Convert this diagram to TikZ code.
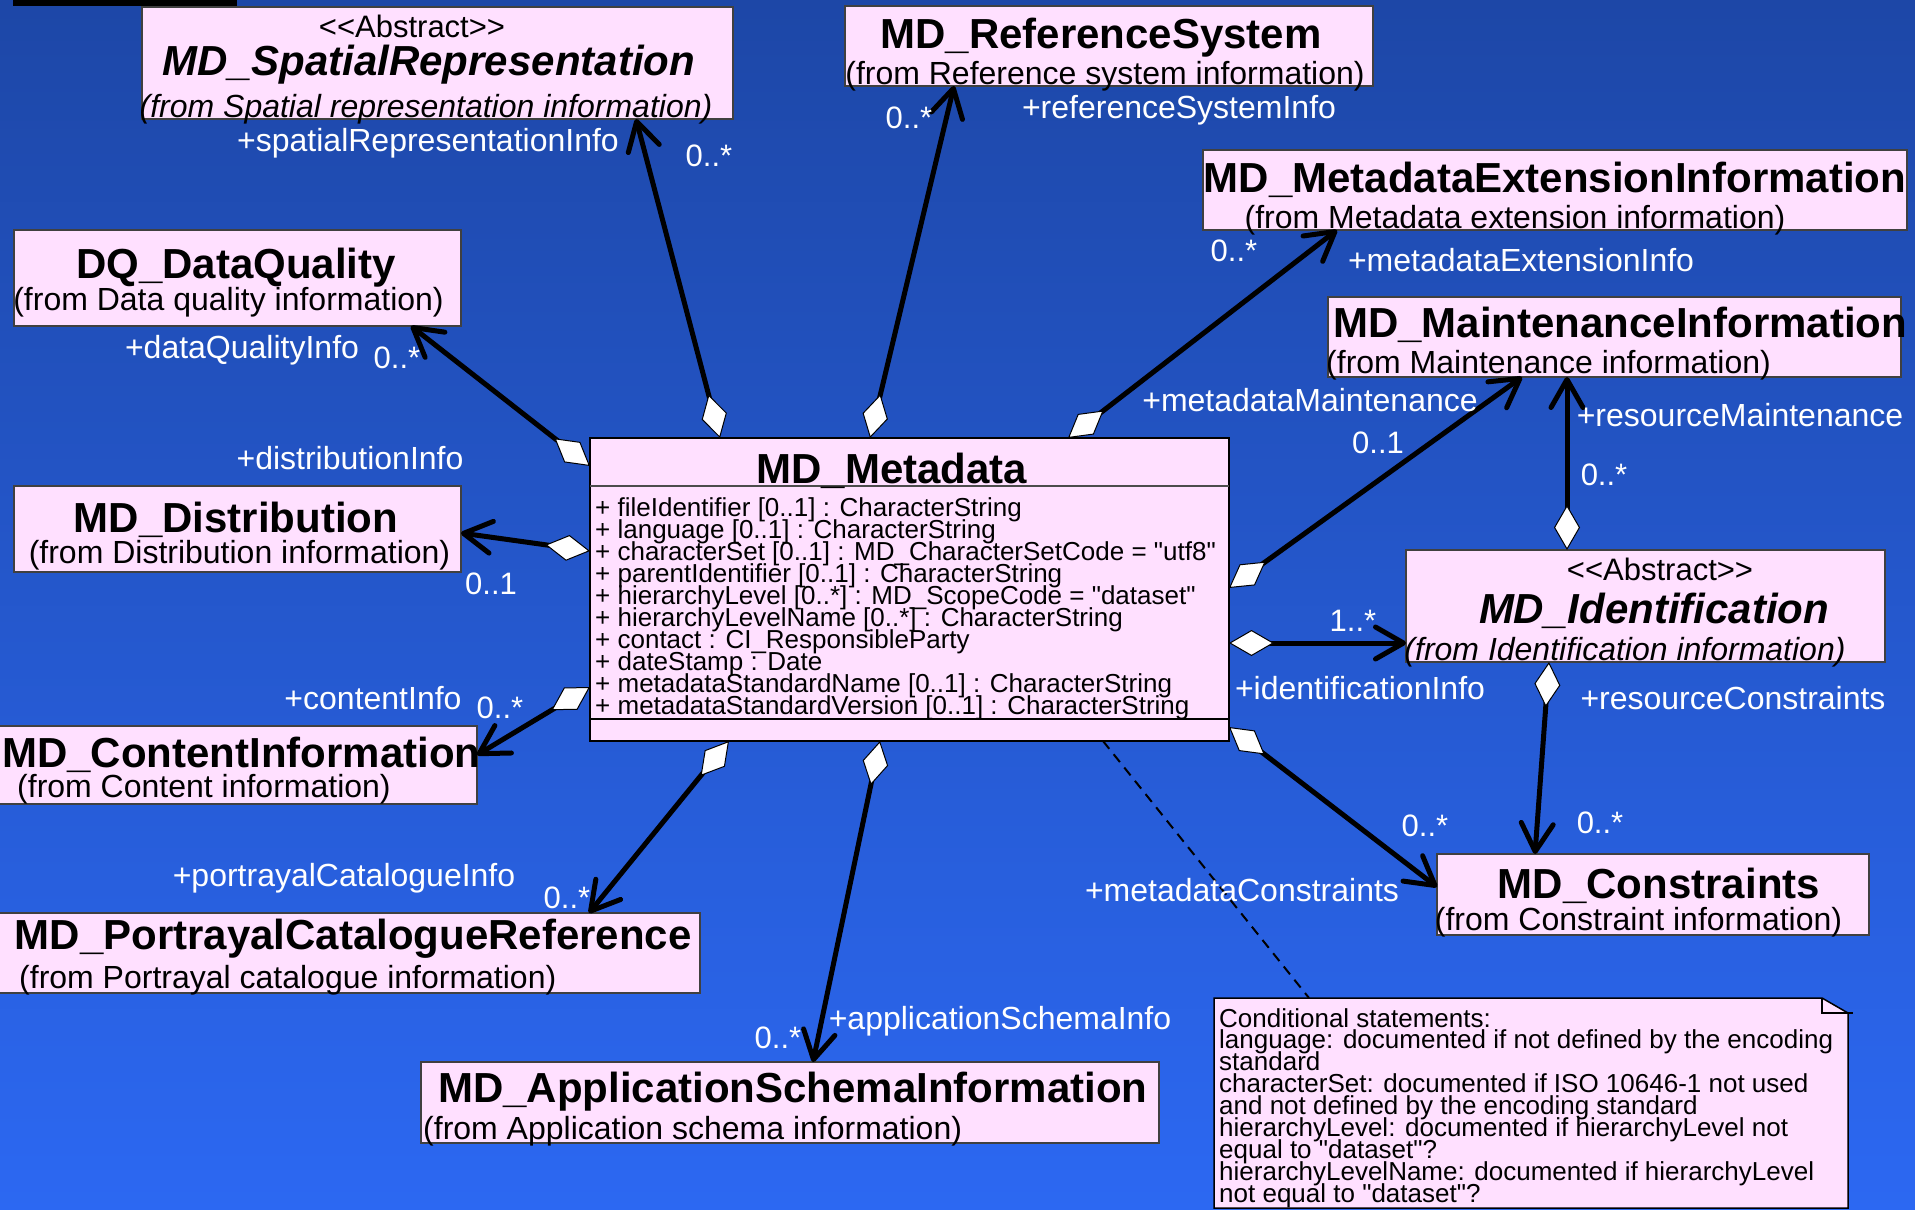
\documentclass[tikz,border=0pt]{standalone}
\usepackage{fontspec}
\setmainfont{Liberation Sans}[Ligatures=TeXOff]
\usetikzlibrary{arrows.meta,calc}

\definecolor{bgtop}{RGB}{29,71,167}
\definecolor{bgbot}{RGB}{44,104,242}
\definecolor{classfill}{RGB}{255,224,255}

% stereotype written with plain angle brackets
\newcommand\stereotype[1]{<\kern0pt<#1>\kern0pt>}

\begin{document}
\begin{tikzpicture}[x=1pt,y=-1pt,
  cls/.style={draw=black!75, line width=1.5pt, fill=classfill, inner sep=0pt, outer sep=0pt, anchor=north west},
  txt/.style={inner sep=0pt, anchor=base},
  title/.style={txt, font=\fontsize{42}{44}\selectfont\bfseries},
  ititle/.style={txt, font=\fontsize{42}{44}\selectfont\bfseries\itshape},
  origin/.style={txt, font=\fontsize{32}{34}\selectfont},
  iorigin/.style={txt, font=\fontsize{32}{34}\selectfont\itshape},
  stereo/.style={txt, font=\fontsize{31}{33}\selectfont},
  role/.style={txt, text=white, font=\fontsize{32}{34}\selectfont},
  mult/.style={txt, text=white, font=\fontsize{31}{33}\selectfont},
  attr/.style={inner sep=0pt, anchor=base west, font=\fontsize{26}{22}\selectfont},
  assoc/.style={line width=5pt, {Diamond[length=45pt,width=26pt,fill=white,line width=1pt]}-{Straight Barb[length=28pt,width=32pt,round]}},
]
\useasboundingbox (0,0) rectangle (1915,1210);
\shade[top color=bgtop, bottom color=bgbot] (0,0) rectangle (1915,1210);
\fill[black] (13,0) rectangle (237,6);

% ---------- class boxes ----------
\node[cls, minimum width=591pt, minimum height=112pt] (spatial) at (142,7) {};
\node[cls, minimum width=528pt, minimum height=80pt] (refsys) at (845,6) {};
\node[cls, minimum width=704pt, minimum height=80pt] (ext) at (1203,150) {};
\node[cls, minimum width=447pt, minimum height=96pt] (dq) at (14,230) {};
\node[cls, minimum width=573pt, minimum height=80pt] (maint) at (1328,297) {};
\node[cls, draw=black, line width=2.5pt, minimum width=639pt, minimum height=303pt] (meta) at (590,438) {};
\node[cls, minimum width=447pt, minimum height=86pt] (dist) at (14,486) {};
\node[cls, minimum width=479pt, minimum height=112pt] (ident) at (1406,550) {};
\node[cls, minimum width=482pt, minimum height=78pt] (content) at (-5,726) {};
\node[cls, minimum width=705pt, minimum height=80pt] (portrayal) at (-5,913) {};
\node[cls, minimum width=432pt, minimum height=81pt] (constraints) at (1437,854) {};
\node[cls, minimum width=738pt, minimum height=81pt] (appschema) at (421,1062) {};

% compartments of MD_Metadata
\draw[line width=1.5pt, black!70] ($(meta.north west)+(0,48)$) -- ($(meta.north east)+(0,48)$);
\draw[line width=1.5pt, black] ($(meta.north west)+(0,281)$) -- ($(meta.north east)+(0,281)$);

% note with folded corner
\node[inner sep=0pt, outer sep=0pt, anchor=north west, minimum width=634pt, minimum height=210pt] (note) at (1214,998) {};
\draw[line width=1.5pt, fill=classfill] (note.north west) -- ($(note.north east)+(-26,0)$)
  -- ($(note.north east)+(0,15)$) -- (note.south east) -- (note.south west) -- cycle;
\draw[line width=1.5pt] ($(note.north east)+(-26,0)$) -- ($(note.north east)+(-26,15)$) -- ($(note.north east)+(5,15)$);

% ---------- associations ----------
\draw[assoc] ($(meta.north west)+(130,0)$) -- ($(spatial.south west)+(494,0)$);
\draw[assoc] ($(meta.north west)+(280,0)$) -- ($(refsys.south west)+(109,0)$);
\draw[assoc] ($(meta.north west)+(478,0)$) -- ($(ext.south west)+(134,0)$);
\draw[assoc] ($(meta.north west)+(0,28)$) -- ($(dq.south east)+(-50,0)$);
\draw[assoc] ($(meta.north west)+(0,113)$) -- ($(dist.north east)+(0,47)$);
\draw[assoc] ($(meta.north west)+(0,249)$) -- ($(content.north east)+(0,29)$);
\draw[assoc] ($(meta.south west)+(139,0)$) -- ($(portrayal.north east)+(-111,0)$);
\draw[assoc] ($(meta.south west)+(290,0)$) -- ($(appschema.north west)+(392,0)$);
\draw[assoc] ($(meta.north east)+(0,289)$) -- ($(constraints.north west)+(0,33)$);
\draw[assoc] ($(meta.north east)+(0,205)$) -- ($(ident.north west)+(0,93)$);
\draw[assoc] ($(meta.north east)+(0,150)$) -- ($(maint.south west)+(194,0)$);
\draw[assoc] ($(ident.north west)+(161,0)$) -- ($(maint.south west)+(239,0)$);
\draw[assoc] ($(ident.south west)+(143,0)$) -- ($(constraints.north west)+(98,0)$);
\draw[line width=2pt, dash pattern=on 10pt off 7pt] ($(meta.south west)+(513,0)$) -- ($(note.north west)+(95,0)$);

% ---------- class texts ----------
\node[stereo] (spatialst) at (412,37) {\stereotype{Abstract}};
\node[ititle] (spatialtt) at (429,75) {MD\_SpatialRepresentation};
\node[iorigin] (spatialor) at (426,117) {(from Spatial representation information)};

\node[title] (refsystt) at (1101,48) {MD\_ReferenceSystem};
\node[origin] (refsysor) at (1105,84) {(from Reference system information)};

\node[title] (exttt) at (1555,192) {MD\_MetadataExtensionInformation};
\node[origin] (extor) at (1515,228) {(from Metadata extension information)};

\node[title] (dqtt) at (236,278) {DQ\_DataQuality};
\node[origin] (dqor) at (228.5,310) {(from Data quality information)};

\node[title, anchor=base west] (mainttt) at (1333,337) {MD\_MaintenanceInformation};
\node[origin, anchor=base west] (maintor) at (1326,373) {(from Maintenance information)};

\node[title] (metatt) at (892,483) {MD\_Metadata};
\foreach \t [count=\i from 0] in {
  {+ fileIdentifier [0..1] : CharacterString},
  {+ language [0..1] : CharacterString},
  {+ characterSet [0..1] : MD\_CharacterSetCode = "utf8"},
  {+ parentIdentifier [0..1] : CharacterString},
  {+ hierarchyLevel [0..*] : MD\_ScopeCode = "dataset"},
  {+ hierarchyLevelName [0..*] : CharacterString},
  {+ contact : CI\_ResponsibleParty},
  {+ dateStamp : Date},
  {+ metadataStandardName [0..1] : CharacterString},
  {+ metadataStandardVersion [0..1] : CharacterString}}
  \node[attr] (attr\i) at (595,{516+22.1*\i}) {\t};

\node[title] (disttt) at (236,532) {MD\_Distribution};
\node[origin] (distor) at (239.5,563) {(from Distribution information)};

\node[stereo] (identst) at (1660,580) {\stereotype{Abstract}};
\node[ititle] (identtt) at (1654,623) {MD\_Identification};
\node[iorigin] (identor) at (1625,660) {(from Identification information)};

\node[title, anchor=base west] (contenttt) at (2,767) {MD\_ContentInformation};
\node[origin, anchor=base west] (contentor) at (17,797) {(from Content information)};

\node[title, anchor=base west] (portrayaltt) at (14.5,949) {MD\_PortrayalCatalogueReference};
\node[origin, anchor=base west] (portrayalor) at (19,988) {(from Portrayal catalogue information)};

\node[title] (constraintstt) at (1659,898) {MD\_Constraints};
\node[origin] (constraintsor) at (1638.5,930) {(from Constraint information)};

\node[title, anchor=base west] (appschematt) at (438,1102) {MD\_ApplicationSchemaInformation};
\node[origin, anchor=base west] (appschemaor) at (423,1139) {(from Application schema information)};

\foreach \t [count=\i from 0] in {
  {Conditional statements:},
  {language: documented if not defined by the encoding},
  {standard},
  {characterSet: documented if ISO 10646-1 not used},
  {and not defined by the encoding standard},
  {hierarchyLevel: documented if hierarchyLevel not},
  {equal to "dataset"?},
  {hierarchyLevelName: documented if hierarchyLevel},
  {not equal to "dataset"?}}
  \node[attr] (noteline\i) at (1219,{1027+21.9*\i}) {\t};

% ---------- role names and multiplicities ----------
\node[role] (rspatial) at (428,151) {+spatialRepresentationInfo};
\node[mult] (mspatial) at (709,166) {0..*};
\node[role] (rrefsys) at (1179,118) {+referenceSystemInfo};
\node[mult] (mrefsys) at (909,128) {0..*};
\node[mult] (mext) at (1234,261) {0..*};
\node[role] (rext) at (1521,271) {+metadataExtensionInfo};
\node[role] (rdq) at (242,358) {+dataQualityInfo};
\node[mult] (mdq) at (397,368) {0..*};
\node[role] (rmdmaint) at (1310,411) {+metadataMaintenance};
\node[role] (rresmaint) at (1740,426) {+resourceMaintenance};
\node[mult] (mmdmaint) at (1378,453) {0..1};
\node[mult] (mresmaint) at (1604,485) {0..*};
\node[role] (rdist) at (350,469) {+distributionInfo};
\node[mult] (mdist) at (491,594) {0..1};
\node[mult] (mident) at (1353,631) {1..*};
\node[role] (rident) at (1360,699) {+identificationInfo};
\node[role] (rresconstr) at (1733,709) {+resourceConstraints};
\node[role] (rcontent) at (373,709) {+contentInfo};
\node[mult] (mcontent) at (500,718) {0..*};
\node[role] (rportrayal) at (344,886) {+portrayalCatalogueInfo};
\node[mult] (mportrayal) at (567,908) {0..*};
\node[mult] (mmdconstr) at (1425,836) {0..*};
\node[mult] (mresconstr) at (1600,833) {0..*};
\node[role] (rmdconstr) at (1242,901) {+metadataConstraints};
\node[role] (rappschema) at (1000,1029) {+applicationSchemaInfo};
\node[mult] (mappschema) at (778,1048) {0..*};
\end{tikzpicture}
\end{document}
